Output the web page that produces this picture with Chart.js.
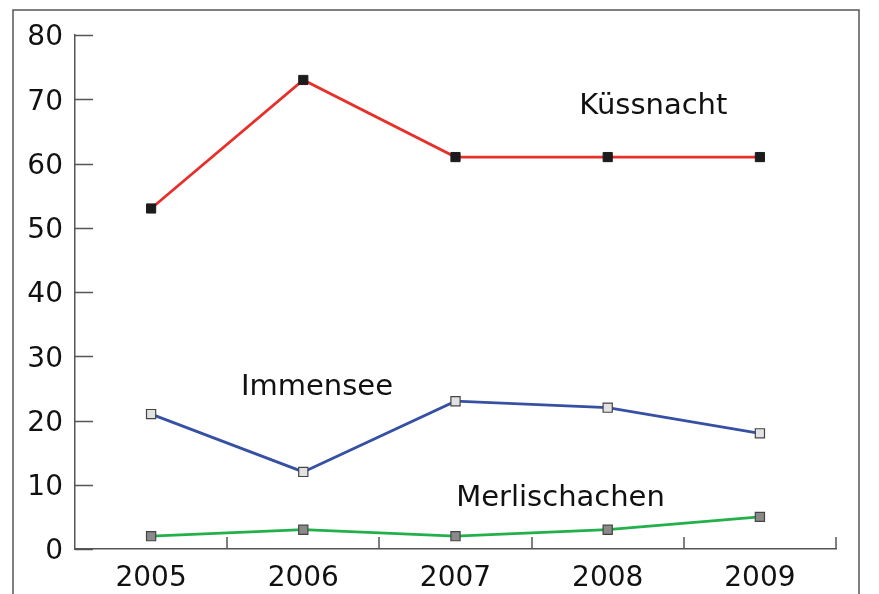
<!DOCTYPE html>
<html>
<head>
<meta charset="utf-8">
<script src="https://cdn.jsdelivr.net/npm/chart.js@4/dist/chart.umd.min.js"></script>
<style>
  html, body { margin: 0; padding: 0; background: #fff; }
  #wrap { width: 879px; height: 594px; }
</style>
</head>
<body>
<div id="wrap"><canvas id="chart"></canvas></div>
<script>
const years = ['2005', '2006', '2007', '2008', '2009'];
const kuessnacht = [53, 73, 61, 61, 61];
const immensee = [21, 12, 23, 22, 18];
const merlischachen = [2, 3, 2, 3, 5];
const yTicks = [0, 10, 20, 30, 40, 50, 60, 70, 80];

// series names placed next to their lines (x = category index, y = value)
const seriesLabels = [
  { text: 'Küssnacht', x: 3.3, y: 68.8 },
  { text: 'Immensee', x: 1.09, y: 25.1 },
  { text: 'Merlischachen', x: 2.69, y: 7.9 }
];

const fontFamily = '"DejaVu Sans", sans-serif';
const axisColor = '#555';

const decorations = {
  id: 'decorations',
  beforeDraw(chart) {
    const ctx = chart.ctx;
    ctx.save();
    ctx.strokeStyle = axisColor;
    ctx.lineWidth = 1.5;
    ctx.strokeRect(13, 10, 846, 620);
    ctx.restore();
  },
  afterDatasetsDraw(chart) {
    const ctx = chart.ctx;
    const x = chart.scales.x, y = chart.scales.y;
    const area = chart.chartArea;
    ctx.save();
    ctx.strokeStyle = axisColor;
    ctx.lineWidth = 1.5;
    ctx.beginPath();
    // y ticks pointing inward
    yTicks.forEach(v => {
      const py = Math.round(y.getPixelForValue(v)) + 0.5;
      ctx.moveTo(area.left, py);
      ctx.lineTo(area.left + 18, py);
    });
    // x ticks between categories, pointing up
    for (let i = 0; i < years.length; i++) {
      const px = Math.round(x.getPixelForValue(i + 0.5));
      ctx.moveTo(px, area.bottom);
      ctx.lineTo(px, area.bottom - 12);
    }
    ctx.stroke();

    ctx.fillStyle = '#111';
    ctx.font = '29px ' + fontFamily;
    ctx.textAlign = 'center';
    ctx.textBaseline = 'middle';
    seriesLabels.forEach(l => {
      ctx.fillText(l.text, x.getPixelForValue(l.x), y.getPixelForValue(l.y));
    });
    ctx.restore();
  }
};

new Chart(document.getElementById('chart'), {
  type: 'line',
  data: {
    labels: years,
    datasets: [
      {
        label: 'Küssnacht',
        data: kuessnacht,
        borderColor: '#e8302b',
        borderWidth: 2.8,
        pointStyle: 'rect',
        pointRadius: 6.5,
        pointBackgroundColor: '#1c1c1c',
        pointBorderColor: '#1c1c1c',
        pointBorderWidth: 1,
        tension: 0
      },
      {
        label: 'Immensee',
        data: immensee,
        borderColor: '#3650a3',
        borderWidth: 2.8,
        pointStyle: 'rect',
        pointRadius: 6.5,
        pointBackgroundColor: '#e2e2e2',
        pointBorderColor: '#444',
        pointBorderWidth: 1.2,
        tension: 0
      },
      {
        label: 'Merlischachen',
        data: merlischachen,
        borderColor: '#22b04b',
        borderWidth: 2.8,
        pointStyle: 'rect',
        pointRadius: 6.5,
        pointBackgroundColor: '#8a8a8a',
        pointBorderColor: '#444',
        pointBorderWidth: 1.2,
        tension: 0
      }
    ]
  },
  options: {
    responsive: true,
    maintainAspectRatio: false,
    animation: false,
    layout: { padding: { top: 35, right: 43, left: 0, bottom: 0 } },
    plugins: {
      legend: { display: false },
      tooltip: { enabled: false }
    },
    scales: {
      x: {
        offset: true,
        grid: { display: false, drawTicks: false },
        border: { display: true, color: axisColor, width: 1.5 },
        ticks: {
          color: '#111',
          font: { family: fontFamily, size: 28 },
          padding: 13,
          maxRotation: 0
        },
        afterFit(scale) { scale.height = 45; }
      },
      y: {
        min: 0,
        max: 80,
        grid: { display: false, drawTicks: false },
        border: { display: true, color: axisColor, width: 1.5 },
        ticks: {
          stepSize: 10,
          color: '#111',
          font: { family: fontFamily, size: 28 },
          padding: 12,
          labelOffset: 3
        },
        afterFit(scale) { scale.width = 75; }
      }
    }
  },
  plugins: [decorations]
});
</script>
</body>
</html>
